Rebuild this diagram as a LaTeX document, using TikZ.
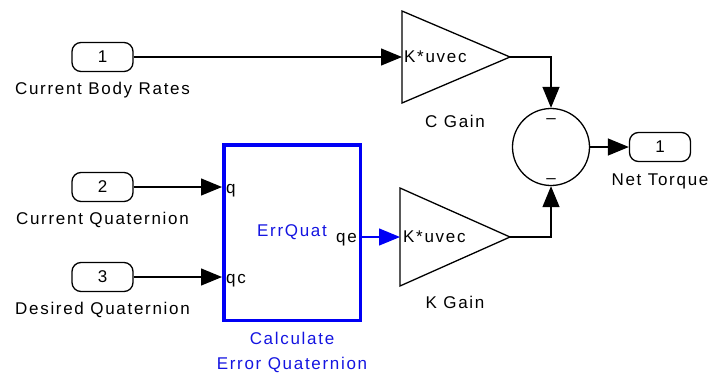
\documentclass[tikz,border=0pt]{standalone}
\usepackage{fontspec}
\setmainfont{Liberation Sans}[LetterSpace=10]
\usetikzlibrary{arrows.meta,positioning,calc}

\definecolor{simblue}{RGB}{0,0,245}
\definecolor{simtext}{RGB}{20,20,225}

\begin{document}
\begin{tikzpicture}[x=1pt,y=-1pt,font=\fontsize{17}{19}\selectfont,
  wire/.style={line width=1.3pt,-{Triangle[length=21pt,width=17pt]}},
  port/.style={draw,line width=1.3pt,rounded corners=9pt,minimum width=61pt,minimum height=29pt,inner sep=0pt},
  lbl/.style={inner sep=0pt,anchor=base},
  gain/.style={line width=1.3pt,line join=miter}]
\useasboundingbox (0,0) rectangle (710,373);
% inports
\node[port] (p1) at (102.5,57) {1};
\node[port] (p2) at (102.5,187) {2};
\node[port] (p3) at (102.5,277) {3};
\node[lbl] (p1lbl) at (102.5,94) {Current Body Rates};
\node[lbl] (p2lbl) at (102.5,224) {Current Quaternion};
\node[lbl] (p3lbl) at (102.5,314) {Desired Quaternion};
% error quaternion block
\node[draw=simblue,line width=3.5pt,minimum width=136.5pt,minimum height=175.5pt,inner sep=0pt] (eq) at (292,232.5) {};
\node[lbl,anchor=base west] (eqq) at (226,193) {q};
\node[lbl,anchor=base west] (eqqc) at (226,283) {qc};
\node[lbl,anchor=base east] (eqqe) at (357,242) {qe};
\node[lbl,text=simtext] (eqname) at (292,236) {ErrQuat};
\node[lbl,text=simtext,align=center,font=\fontsize{17}{25}\selectfont] (eqlbl) at (292,369) {Calculate\\Error Quaternion};
% gains
\coordinate (cg) at (402,57);
\coordinate (cgtip) at (510,57);
\coordinate (kg) at (400,237);
\coordinate (kgtip) at (510,237);
\draw[gain] ($(cg)+(0,-46)$) -- (cgtip) -- ($(cg)+(0,46)$) -- cycle;
\draw[gain] ($(kg)+(0,-49)$) -- (kgtip) -- ($(kg)+(0,49)$) -- cycle;
\node[lbl,anchor=base west] (cgtxt) at (404,62) {K*uvec};
\node[lbl,anchor=base west] (kgtxt) at (403,242) {K*uvec};
\node[lbl] (cglbl) at (455,127) {C Gain};
\node[lbl] (kglbl) at (455,308) {K Gain};
% sum and outport
\node[draw,circle,line width=1.3pt,minimum size=77pt,inner sep=0pt] (sum) at (551,147) {};
\node[lbl] (sumtop) at (551,123) {\textendash};
\node[lbl] (sumbot) at (551,183) {\textendash};
\node[port] (pout) at (660,147) {1};
\node[lbl] (poutlbl) at (660,185) {Net Torque};
% signal lines
\draw[wire] (p1) -- (cg);
\draw[wire] (p2) -- (p2 -| eq.west);
\draw[wire] (p3) -- (p3 -| eq.west);
\draw[wire,simblue] (eq.east |- kg) -- (kg);
\draw[wire] (cgtip) -| (sum.north);
\draw[wire] (kgtip) -| (sum.south);
\draw[wire] (sum) -- (pout);
\end{tikzpicture}
\end{document}
